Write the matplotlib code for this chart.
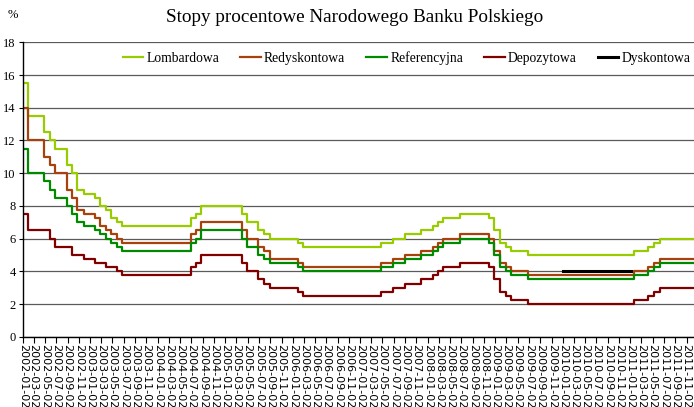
import pandas as pd
import matplotlib
matplotlib.use("Agg")
import matplotlib.pyplot as plt


# Daty decyzji RPP i poziomy stop (stan od danej daty)
DATES = [
    '2002-01-02', '2002-01-31', '2002-04-25', '2002-05-29', '2002-06-26',
    '2002-08-28', '2002-09-25', '2002-10-23', '2002-11-27', '2003-01-29',
    '2003-02-26', '2003-03-26', '2003-04-24', '2003-05-28', '2003-06-25',
    '2004-06-30', '2004-07-29', '2004-08-26', '2005-03-31', '2005-04-28',
    '2005-06-29', '2005-07-28', '2005-08-31', '2006-01-31', '2006-02-28',
    '2007-04-26', '2007-06-28', '2007-08-30', '2007-11-29', '2008-01-31',
    '2008-02-28', '2008-03-27', '2008-06-26', '2008-11-27', '2008-12-24',
    '2009-01-28', '2009-02-26', '2009-03-26', '2009-06-25', '2011-01-20',
    '2011-04-06', '2011-05-12', '2011-06-09', '2011-12-31',
]
LOMBARDOWA = [
    15.5, 13.5, 12.5, 12.0, 11.5, 10.5, 10.0, 9.0, 8.75, 8.5,
    8.0, 7.75, 7.25, 7.0, 6.75, 7.25, 7.5, 8.0, 7.5, 7.0,
    6.5, 6.25, 6.0, 5.75, 5.5, 5.75, 6.0, 6.25, 6.5, 6.75,
    7.0, 7.25, 7.5, 7.25, 6.5, 5.75, 5.5, 5.25, 5.0, 5.25,
    5.5, 5.75, 6.0, 6.0,
]
REDYSKONTOWA = [
    14.0, 12.0, 11.0, 10.5, 10.0, 9.0, 8.5, 7.75, 7.5, 7.25,
    6.75, 6.5, 6.25, 6.0, 5.75, 6.25, 6.5, 7.0, 6.5, 6.0,
    5.5, 5.25, 4.75, 4.5, 4.25, 4.5, 4.75, 5.0, 5.25, 5.5,
    5.75, 6.0, 6.25, 6.0, 5.25, 4.5, 4.25, 4.0, 3.75, 4.0,
    4.25, 4.5, 4.75, 4.75,
]
REFERENCYJNA = [
    11.5, 10.0, 9.5, 9.0, 8.5, 8.0, 7.5, 7.0, 6.75, 6.5,
    6.25, 6.0, 5.75, 5.5, 5.25, 5.75, 6.0, 6.5, 6.0, 5.5,
    5.0, 4.75, 4.5, 4.25, 4.0, 4.25, 4.5, 4.75, 5.0, 5.25,
    5.5, 5.75, 6.0, 5.75, 5.0, 4.25, 4.0, 3.75, 3.5, 3.75,
    4.0, 4.25, 4.5, 4.5,
]
DEPOZYTOWA = [
    7.5, 6.5, 6.5, 6.0, 5.5, 5.5, 5.0, 5.0, 4.75, 4.5,
    4.5, 4.25, 4.25, 4.0, 3.75, 4.25, 4.5, 5.0, 4.5, 4.0,
    3.5, 3.25, 3.0, 2.75, 2.5, 2.75, 3.0, 3.25, 3.5, 3.75,
    4.0, 4.25, 4.5, 4.25, 3.5, 2.75, 2.5, 2.25, 2.0, 2.25,
    2.5, 2.75, 3.0, 3.0,
]
DYSK_DATES = ['2010-01-01', '2011-01-05']
DYSKONTOWA = [4.0, 4.0]

SERIES = [
    ('Lombardowa', LOMBARDOWA, '#99CC00'),
    ('Redyskontowa', REDYSKONTOWA, '#A8420C'),
    ('Referencyjna', REFERENCYJNA, '#008A00'),
    ('Depozytowa', DEPOZYTOWA, '#800000'),
]

SERIF = ['Liberation Serif', 'DejaVu Serif']

dates = pd.to_datetime(DATES)

fig = plt.figure(figsize=(6.94, 4.07), dpi=100)
ax = fig.add_axes([0.0327, 0.1727, 0.9673, 0.7233])

for name, vals, col in SERIES:
    ax.step(dates, vals, where='post', color=col, lw=1.6, label=name)
ax.plot(pd.to_datetime(DYSK_DATES), DYSKONTOWA, color='black', lw=2.2, label='Dyskontowa')

ax.set_ylim(0, 18)
ax.set_yticks(range(0, 19, 2))
ax.set_xlim(pd.Timestamp('2002-01-02'), pd.Timestamp('2011-12-12'))

# etykiety co dwa miesiace, zawsze drugi dzien miesiaca
xt = pd.date_range('2002-01-01', '2011-11-01', freq='2MS') + pd.Timedelta(days=1)
ax.set_xticks(xt)
ax.set_xticklabels([d.strftime('%Y-%m-%d') for d in xt], rotation=-90,
                   fontsize=8, family='DejaVu Sans')
for lab in ax.get_yticklabels():
    lab.set_family(SERIF)
    lab.set_fontsize(9)

ax.grid(axis='y', color='#5a5a5a', lw=0.9)
ax.set_axisbelow(True)
for s in ['top', 'right']:
    ax.spines[s].set_visible(False)
ax.spines['left'].set_linewidth(1.0)
ax.spines['bottom'].set_linewidth(1.0)
ax.tick_params(axis='x', length=4, width=0.8, pad=1)
ax.tick_params(axis='y', length=3, width=0.8, pad=2)

ax.legend(loc='center', bbox_to_anchor=(0.572, 0.947), ncol=5, frameon=False,
          prop={'family': SERIF, 'size': 9.8}, handlelength=1.5,
          handletextpad=0.25, columnspacing=1.55, borderaxespad=0)

fig.text(0.511, 0.958, 'Stopy procentowe Narodowego Banku Polskiego',
         ha='center', va='center', family=SERIF, fontsize=13.8)
fig.text(0.019, 0.962, '%', ha='center', va='center', family=SERIF, fontsize=9)

fig.savefig('out.png', dpi=100)
